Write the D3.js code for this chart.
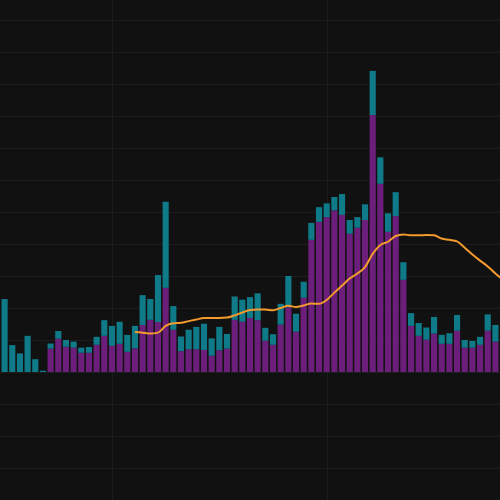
<!DOCTYPE html>
<html>
<head>
<meta charset="utf-8">
<script src="https://cdn.jsdelivr.net/npm/d3@7"></script>
<style>
  html, body { margin: 0; padding: 0; background: #111111; }
  svg { display: block; }
</style>
</head>
<body>
<svg id="chart" width="500" height="500"></svg>
<script>
// ---- data ----
const startDate = "2021-01-18";
const endDate = "2021-03-24"; // exclusive (last bar: 2021-03-23)
const gridDates = ["2021-02-01", "2021-03-01"];
const yTicks = [-300,-200,-100,0,100,200,300,400,500,600,700,800,900,1000,1100];

const seriesA = [ // purple, bottom
  0,0,0,0,0,0,73,104,79,76,60,60,85,113,82,88,63,74,147,163,
  156,263,132,65,71,71,69,51,68,73,163,157,169,162,98,85,148,202,126,232,
  413,469,484,505,491,432,451,475,803,588,438,487,288,144,113,101,120,88,88,129,
  76,76,85,129,95
];
const seriesB = [ // teal, top
  228,84,58,113,40,4,16,24,21,19,16,18,25,49,62,69,53,70,93,65,
  147,269,74,46,61,70,82,54,73,46,73,69,65,84,40,33,65,98,56,50,
  53,46,43,42,65,43,33,49,138,83,58,75,55,40,40,38,52,28,33,49,
  24,21,25,51,52
];
// average line, one value per day (last one is for 2021-03-24, just past the right edge)
const average = [
  null,null,null,null,null,null,null,null,null,null,null,null,null,null,null,null,null,
  125,123,120,123,144,152,154,159,164,169,169,169,170,177,186,194,195,195,193,200,207,203,
  208,214,213,225,248,270,292,308,328,369,397,407,425,430,427,427,428,427,417,413,408,
  388,367,348,330,308,288
];

// ---- chart ----
const W = 500, H = 500;
const parse = d3.timeParse("%Y-%m-%d");
const fmt = d3.timeFormat("%Y-%m-%d");
const categories = d3.timeDay.range(parse(startDate), parse(endDate)).map(fmt);

const x = d3.scaleBand().domain(categories).range([0, W]).paddingInner(0.2).paddingOuter(0.2);
const y = d3.scaleLinear().domain([-400, 1162.5]).range([H, 0]);
const xCenter = i => x(categories[0]) + i * x.step() + x.bandwidth() / 2;

const svg = d3.select("#chart");
svg.append("rect").attr("width", W).attr("height", H).attr("fill", "#111111");

const grid = svg.append("g").attr("stroke", "#1d1d1d").attr("stroke-width", 1);
grid.selectAll("line.h").data(yTicks).join("line")
  .attr("class", "h")
  .attr("x1", 0).attr("x2", W)
  .attr("y1", d => Math.round(y(d)) + 0.5).attr("y2", d => Math.round(y(d)) + 0.5);
grid.selectAll("line.v").data(gridDates).join("line")
  .attr("class", "v")
  .attr("y1", 0).attr("y2", H)
  .attr("x1", d => Math.round(x(d) + x.bandwidth() / 2) + 0.5)
  .attr("x2", d => Math.round(x(d) + x.bandwidth() / 2) + 0.5);

const rows = categories.map((c, i) => ({ cat: c, a: seriesA[i], b: seriesB[i] }));
const stack = d3.stack().keys(["a", "b"])(rows);
const colors = { a: "#6b1f7b", b: "#0f7a88" };

svg.append("g").selectAll("g").data(stack).join("g")
  .attr("fill", d => colors[d.key])
  .selectAll("rect").data(d => d).join("rect")
  .attr("x", d => x(d.data.cat))
  .attr("width", x.bandwidth())
  .attr("y", d => y(d[1]))
  .attr("height", d => Math.max(0, y(d[0]) - y(d[1])));

const line = d3.line()
  .defined(d => d.v != null)
  .x(d => xCenter(d.i))
  .y(d => y(d.v))
  .curve(d3.curveMonotoneX);

svg.append("path")
  .datum(average.map((v, i) => ({ i, v })))
  .attr("fill", "none")
  .attr("stroke", "#f29a2e")
  .attr("stroke-width", 2)
  .attr("stroke-linejoin", "round")
  .attr("d", line);
</script>
</body>
</html>
